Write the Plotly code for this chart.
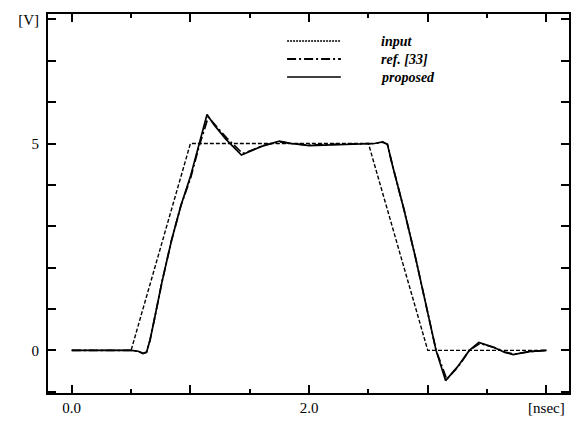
import plotly.graph_objects as go

# ---- data ----
t_input = [0.0, 0.5, 1.0, 2.5, 3.0, 4.0]
v_input = [0.0, 0.0, 5.0, 5.0, 0.0, 0.0]

t_prop = [0.0, 0.5, 0.56, 0.60, 0.63, 0.66, 0.70, 0.76, 0.84, 0.92, 1.00, 1.07, 1.14, 1.20, 1.30, 1.43,
          1.50, 1.60, 1.75, 1.85, 2.00, 2.20, 2.40, 2.55, 2.62, 2.66, 2.70, 2.80, 2.90, 3.00,
          3.07, 3.15, 3.25, 3.35, 3.43, 3.55, 3.65, 3.72, 3.85, 4.0]
v_prop = [0.0, 0.0, -0.02, -0.08, -0.05, 0.25, 0.8, 1.65, 2.65, 3.5, 4.2, 4.95, 5.70, 5.45, 5.1, 4.72,
          4.8, 4.93, 5.06, 5.0, 4.95, 4.97, 4.98, 5.0, 5.04, 4.98, 4.5, 3.4, 2.2, 0.9,
          0.0, -0.73, -0.4, 0.0, 0.19, 0.08, -0.05, -0.1, -0.03, 0.0]

t_ref = [0.0, 0.5, 0.56, 0.60, 0.63, 0.66, 0.70, 0.76, 0.84, 0.92, 1.00, 1.07, 1.15, 1.21, 1.31, 1.44,
         1.51, 1.61, 1.75, 1.85, 2.00, 2.20, 2.40, 2.55, 2.62, 2.66, 2.70, 2.80, 2.90, 3.00,
         3.07, 3.16, 3.26, 3.35, 3.44, 3.56, 3.66, 3.73, 3.86, 4.0]
v_ref = [0.0, 0.0, -0.02, -0.07, -0.04, 0.25, 0.8, 1.65, 2.65, 3.5, 4.15, 4.9, 5.64, 5.45, 5.12, 4.76,
         4.83, 4.95, 5.04, 5.0, 4.96, 4.98, 4.99, 5.0, 5.03, 4.98, 4.5, 3.4, 2.2, 0.9,
         0.0, -0.70, -0.38, 0.0, 0.17, 0.07, -0.05, -0.09, -0.03, 0.0]

series_names = ["input", "ref. [33]", "proposed"]

x_tickvals = [0, 1, 2, 3, 4]
x_ticktext = ["0.0", "", "2.0", "", "[nsec]"]
y_tickvals = [-1, 0, 1, 2, 3, 4, 5, 6, 7, 8]
y_ticktext = ["", "0", "", "", "", "", "5", "", "", "[V]"]

FONT = "Liberation Serif, Times New Roman, Times, serif"

fig = go.Figure()
fig.add_trace(go.Scatter(x=t_input, y=v_input, mode="lines", name=series_names[0],
                         line=dict(color="black", width=1.4, dash="4px,2px")))
fig.add_trace(go.Scatter(x=t_ref, y=v_ref, mode="lines", name=series_names[1],
                         line=dict(color="black", width=1.7, dash="9px,3px,2px,3px")))
fig.add_trace(go.Scatter(x=t_prop, y=v_prop, mode="lines", name=series_names[2],
                         line=dict(color="black", width=1.7)))

# manual legend (line samples + text) in paper coordinates
leg_dash = ["2px,1px", "9px,3px,2px,3px", "solid"]
leg_w = [1.3, 2.0, 1.3]
x0p, x1p, xtp = (288 - 48) / 523, (342 - 48) / 523, (380 - 48) / 523
for i, name in enumerate(series_names):
    ypx = 41 + 18 * i
    yp = 1 - (ypx - 14) / 379
    fig.add_shape(type="line", xref="paper", yref="paper", x0=x0p, x1=x1p, y0=yp, y1=yp,
                  line=dict(color="black", width=leg_w[i], dash=leg_dash[i]))
    fig.add_annotation(xref="paper", yref="paper", x=xtp, y=yp, text=name, showarrow=False,
                       xanchor="left", yanchor="middle",
                       font=dict(family=FONT, size=14, color="black", style="italic", weight="bold"))

axis_common = dict(showline=True, linewidth=2, linecolor="black", mirror="ticks",
                   ticks="inside", tickwidth=1.5, tickcolor="black", ticklen=8,
                   showgrid=False, zeroline=False,
                   tickfont=dict(family=FONT, size=15, color="black"))

fig.update_layout(
    width=576, height=421,
    margin=dict(l=48, r=5, t=14, b=28),
    plot_bgcolor="white", paper_bgcolor="white",
    showlegend=False,
    font=dict(family=FONT, size=15, color="black"),
    xaxis=dict(range=[-0.2, 4.19], tickvals=x_tickvals, ticktext=x_ticktext,
               minor=dict(dtick=0.5, tick0=0, ticks="inside", ticklen=4, tickwidth=1.5,
                          tickcolor="black"),
               **axis_common),
    yaxis=dict(range=[-1.03, 8.13], tickvals=y_tickvals, ticktext=y_ticktext,
               ticklabelstandoff=4, **axis_common),
)

fig.write_html("out.html", config={"displayModeBar": False},
               post_script="document.body.style.margin='0';")
